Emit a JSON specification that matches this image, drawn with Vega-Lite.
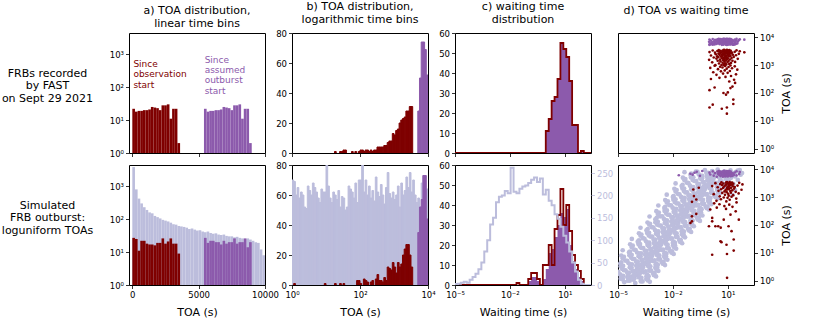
{
"$schema":"https://vega.github.io/schema/vega-lite/v6.json",
"padding":{"left":0,"top":0,"right":5,"bottom":5},
"config":{"font":"DejaVu Sans","view":{"stroke":"#000","strokeWidth":1},
"axis":{"grid":false,"domain":false,"tickColor":"#000","tickSize":3.5,"tickWidth":0.8,"labelFontSize":8.5,"labelColor":"#000","labelPadding":2,"labelFlush":false,"labelOverlap":false,"titleFontSize":11,"titleFontWeight":"normal","titleColor":"#000","titlePadding":7},
"title":{"fontSize":11,"fontWeight":"normal","offset":4,"lineHeight":13,"color":"#000"}},
"datasets":{
"a1":[{"lo":0,"hi":200,"c":22,"s":"obs"},{"lo":200,"hi":400,"c":18,"s":"obs"},{"lo":400,"hi":600,"c":19,"s":"obs"},{"lo":600,"hi":800,"c":19,"s":"obs"},{"lo":800,"hi":1000,"c":20,"s":"obs"},{"lo":1000,"hi":1200,"c":20,"s":"obs"},{"lo":1200,"hi":1400,"c":21,"s":"obs"},{"lo":1400,"hi":1600,"c":25,"s":"obs"},{"lo":1600,"hi":1800,"c":24,"s":"obs"},{"lo":1800,"hi":2000,"c":23,"s":"obs"},{"lo":2000,"hi":2200,"c":20,"s":"obs"},{"lo":2200,"hi":2400,"c":28,"s":"obs"},{"lo":2400,"hi":2600,"c":28,"s":"obs"},{"lo":2600,"hi":2800,"c":30,"s":"obs"},{"lo":2800,"hi":3000,"c":11,"s":"obs"},{"lo":3000,"hi":3200,"c":22,"s":"obs"},{"lo":3200,"hi":3400,"c":22,"s":"obs"},{"lo":3400,"hi":3600,"c":2,"s":"obs"},
{"lo":5400,"hi":5600,"c":22,"s":"out"},{"lo":5600,"hi":5800,"c":18,"s":"out"},{"lo":5800,"hi":6000,"c":19,"s":"out"},{"lo":6000,"hi":6200,"c":19,"s":"out"},{"lo":6200,"hi":6400,"c":20,"s":"out"},{"lo":6400,"hi":6600,"c":20,"s":"out"},{"lo":6600,"hi":6800,"c":21,"s":"out"},{"lo":6800,"hi":7000,"c":25,"s":"out"},{"lo":7000,"hi":7200,"c":24,"s":"out"},{"lo":7200,"hi":7400,"c":23,"s":"out"},{"lo":7400,"hi":7600,"c":20,"s":"out"},{"lo":7600,"hi":7800,"c":28,"s":"out"},{"lo":7800,"hi":8000,"c":28,"s":"out"},{"lo":8000,"hi":8200,"c":30,"s":"out"},{"lo":8200,"hi":8400,"c":11,"s":"out"},{"lo":8400,"hi":8600,"c":22,"s":"out"},{"lo":8600,"hi":8800,"c":22,"s":"out"},{"lo":8800,"hi":9000,"c":2,"s":"out"}],
"a1t":[{"lo":80,"c":670,"s":"obs","label":"Since\nobservation\nstart"},{"lo":5450,"c":900,"s":"out","label":"Since\nassumed\noutburst\nstart"}],
"a2":[{"lo":0,"hi":200,"c":3800,"s":"sim"},{"lo":200,"hi":400,"c":800,"s":"sim"},{"lo":400,"hi":600,"c":420,"s":"sim"},{"lo":600,"hi":800,"c":300,"s":"sim"},{"lo":800,"hi":1000,"c":230,"s":"sim"},{"lo":1000,"hi":1200,"c":190,"s":"sim"},{"lo":1200,"hi":1400,"c":160,"s":"sim"},{"lo":1400,"hi":1600,"c":150,"s":"sim"},{"lo":1600,"hi":1800,"c":125,"s":"sim"},{"lo":1800,"hi":2000,"c":115,"s":"sim"},{"lo":2000,"hi":2200,"c":105,"s":"sim"},{"lo":2200,"hi":2400,"c":95,"s":"sim"},{"lo":2400,"hi":2600,"c":90,"s":"sim"},{"lo":2600,"hi":2800,"c":85,"s":"sim"},{"lo":2800,"hi":3000,"c":78,"s":"sim"},{"lo":3000,"hi":3200,"c":70,"s":"sim"},{"lo":3200,"hi":3400,"c":68,"s":"sim"},{"lo":3400,"hi":3600,"c":62,"s":"sim"},{"lo":3600,"hi":3800,"c":60,"s":"sim"},{"lo":3800,"hi":4000,"c":58,"s":"sim"},{"lo":4000,"hi":4200,"c":55,"s":"sim"},{"lo":4200,"hi":4400,"c":50,"s":"sim"},{"lo":4400,"hi":4600,"c":52,"s":"sim"},{"lo":4600,"hi":4800,"c":48,"s":"sim"},{"lo":4800,"hi":5000,"c":45,"s":"sim"},{"lo":5000,"hi":5200,"c":46,"s":"sim"},{"lo":5200,"hi":5400,"c":42,"s":"sim"},{"lo":5400,"hi":5600,"c":40,"s":"sim"},{"lo":5600,"hi":5800,"c":42,"s":"sim"},{"lo":5800,"hi":6000,"c":38,"s":"sim"},{"lo":6000,"hi":6200,"c":36,"s":"sim"},{"lo":6200,"hi":6400,"c":37,"s":"sim"},{"lo":6400,"hi":6600,"c":34,"s":"sim"},{"lo":6600,"hi":6800,"c":33,"s":"sim"},{"lo":6800,"hi":7000,"c":34,"s":"sim"},{"lo":7000,"hi":7200,"c":31,"s":"sim"},{"lo":7200,"hi":7400,"c":30,"s":"sim"},{"lo":7400,"hi":7600,"c":30,"s":"sim"},{"lo":7600,"hi":7800,"c":28,"s":"sim"},{"lo":7800,"hi":8000,"c":29,"s":"sim"},{"lo":8000,"hi":8200,"c":27,"s":"sim"},{"lo":8200,"hi":8400,"c":26,"s":"sim"},{"lo":8400,"hi":8600,"c":25,"s":"sim"},{"lo":8600,"hi":8800,"c":26,"s":"sim"},{"lo":8800,"hi":9000,"c":24,"s":"sim"},{"lo":9000,"hi":9200,"c":22,"s":"sim"},{"lo":9200,"hi":9400,"c":20,"s":"sim"},{"lo":9400,"hi":9600,"c":19,"s":"sim"},{"lo":9600,"hi":9800,"c":12,"s":"sim"},{"lo":9800,"hi":10000,"c":8,"s":"sim"},
{"lo":0,"hi":200,"c":27,"s":"obs"},{"lo":200,"hi":400,"c":25,"s":"obs"},{"lo":400,"hi":600,"c":11,"s":"obs"},{"lo":600,"hi":800,"c":22,"s":"obs"},{"lo":800,"hi":1000,"c":22,"s":"obs"},{"lo":1000,"hi":1200,"c":18,"s":"obs"},{"lo":1200,"hi":1400,"c":17,"s":"obs"},{"lo":1400,"hi":1600,"c":17,"s":"obs"},{"lo":1600,"hi":1800,"c":16,"s":"obs"},{"lo":1800,"hi":2000,"c":19,"s":"obs"},{"lo":2000,"hi":2200,"c":19,"s":"obs"},{"lo":2200,"hi":2400,"c":26,"s":"obs"},{"lo":2400,"hi":2600,"c":18,"s":"obs"},{"lo":2600,"hi":2800,"c":21,"s":"obs"},{"lo":2800,"hi":3000,"c":26,"s":"obs"},{"lo":3000,"hi":3200,"c":18,"s":"obs"},{"lo":3200,"hi":3400,"c":18,"s":"obs"},{"lo":3400,"hi":3600,"c":9,"s":"obs"},
{"lo":5400,"hi":5600,"c":27,"s":"out"},{"lo":5600,"hi":5800,"c":19,"s":"out"},{"lo":5800,"hi":6000,"c":22,"s":"out"},{"lo":6000,"hi":6200,"c":22,"s":"out"},{"lo":6200,"hi":6400,"c":20,"s":"out"},{"lo":6400,"hi":6600,"c":20,"s":"out"},{"lo":6600,"hi":6800,"c":17,"s":"out"},{"lo":6800,"hi":7000,"c":22,"s":"out"},{"lo":7000,"hi":7200,"c":18,"s":"out"},{"lo":7200,"hi":7400,"c":20,"s":"out"},{"lo":7400,"hi":7600,"c":20,"s":"out"},{"lo":7600,"hi":7800,"c":26,"s":"out"},{"lo":7800,"hi":8000,"c":18,"s":"out"},{"lo":8000,"hi":8200,"c":20,"s":"out"},{"lo":8200,"hi":8400,"c":20,"s":"out"},{"lo":8400,"hi":8600,"c":26,"s":"out"},{"lo":8600,"hi":8800,"c":14,"s":"out"},{"lo":8800,"hi":9000,"c":20,"s":"out"}],
"b1":[{"lo":17.78,"hi":19.95,"c":1,"s":"obs"},{"lo":25.12,"hi":28.18,"c":1,"s":"obs"},{"lo":28.18,"hi":31.62,"c":1,"s":"obs"},{"lo":31.62,"hi":35.48,"c":2,"s":"obs"},{"lo":35.48,"hi":39.81,"c":2,"s":"obs"},{"lo":56.23,"hi":63.1,"c":1,"s":"obs"},{"lo":70.79,"hi":79.43,"c":1,"s":"obs"},{"lo":89.13,"hi":100,"c":1,"s":"obs"},{"lo":100,"hi":112.2,"c":2,"s":"obs"},{"lo":112.2,"hi":125.9,"c":2,"s":"obs"},{"lo":125.9,"hi":141.3,"c":1,"s":"obs"},{"lo":141.3,"hi":158.5,"c":2,"s":"obs"},{"lo":158.5,"hi":177.8,"c":2,"s":"obs"},{"lo":177.8,"hi":199.5,"c":1,"s":"obs"},{"lo":199.5,"hi":223.9,"c":2,"s":"obs"},{"lo":223.9,"hi":251.2,"c":1,"s":"obs"},{"lo":251.2,"hi":281.8,"c":2,"s":"obs"},{"lo":281.8,"hi":316.2,"c":2,"s":"obs"},{"lo":316.2,"hi":354.8,"c":4,"s":"obs"},{"lo":354.8,"hi":398.1,"c":4,"s":"obs"},{"lo":398.1,"hi":446.7,"c":4,"s":"obs"},{"lo":446.7,"hi":501.2,"c":4,"s":"obs"},{"lo":501.2,"hi":562.3,"c":5,"s":"obs"},{"lo":562.3,"hi":631,"c":5,"s":"obs"},{"lo":631,"hi":707.9,"c":7,"s":"obs"},{"lo":707.9,"hi":794.3,"c":8,"s":"obs"},{"lo":794.3,"hi":891.3,"c":8,"s":"obs"},{"lo":891.3,"hi":1000,"c":13,"s":"obs"},{"lo":1000,"hi":1122,"c":12,"s":"obs"},{"lo":1122,"hi":1259,"c":15,"s":"obs"},{"lo":1259,"hi":1413,"c":16,"s":"obs"},{"lo":1413,"hi":1585,"c":20,"s":"obs"},{"lo":1585,"hi":1778,"c":22,"s":"obs"},{"lo":1778,"hi":1995,"c":23,"s":"obs"},{"lo":1995,"hi":2239,"c":24,"s":"obs"},{"lo":2239,"hi":2512,"c":28,"s":"obs"},{"lo":2512,"hi":2818,"c":28,"s":"obs"},{"lo":2818,"hi":3162,"c":31,"s":"obs"},{"lo":3162,"hi":3548,"c":31,"s":"obs"},
{"lo":5012,"hi":5623,"c":28,"s":"out"},{"lo":5623,"hi":6310,"c":50,"s":"out"},{"lo":6310,"hi":7079,"c":74,"s":"out"},{"lo":7079,"hi":7943,"c":74,"s":"out"},{"lo":7943,"hi":8913,"c":69,"s":"out"},{"lo":8913,"hi":10000,"c":52,"s":"out"}],
"b2":[{"lo":1,"hi":1.122,"c":70,"s":"sim"},{"lo":1.122,"hi":1.259,"c":69,"s":"sim"},{"lo":1.259,"hi":1.413,"c":60,"s":"sim"},{"lo":1.413,"hi":1.585,"c":65,"s":"sim"},{"lo":1.585,"hi":1.778,"c":58,"s":"sim"},{"lo":1.778,"hi":1.995,"c":62,"s":"sim"},{"lo":1.995,"hi":2.239,"c":60,"s":"sim"},{"lo":2.239,"hi":2.512,"c":52,"s":"sim"},{"lo":2.512,"hi":2.818,"c":51,"s":"sim"},{"lo":2.818,"hi":3.162,"c":66,"s":"sim"},{"lo":3.162,"hi":3.548,"c":63,"s":"sim"},{"lo":3.548,"hi":3.981,"c":60,"s":"sim"},{"lo":3.981,"hi":4.467,"c":68,"s":"sim"},{"lo":4.467,"hi":5.012,"c":65,"s":"sim"},{"lo":5.012,"hi":5.623,"c":62,"s":"sim"},{"lo":5.623,"hi":6.31,"c":58,"s":"sim"},{"lo":6.31,"hi":7.079,"c":55,"s":"sim"},{"lo":7.079,"hi":7.943,"c":64,"s":"sim"},{"lo":7.943,"hi":8.913,"c":62,"s":"sim"},{"lo":8.913,"hi":10,"c":62,"s":"sim"},{"lo":10,"hi":11.22,"c":85,"s":"sim"},{"lo":11.22,"hi":12.59,"c":66,"s":"sim"},{"lo":12.59,"hi":14.13,"c":58,"s":"sim"},{"lo":14.13,"hi":15.85,"c":55,"s":"sim"},{"lo":15.85,"hi":17.78,"c":62,"s":"sim"},{"lo":17.78,"hi":19.95,"c":60,"s":"sim"},{"lo":19.95,"hi":22.39,"c":57,"s":"sim"},{"lo":22.39,"hi":25.12,"c":63,"s":"sim"},{"lo":25.12,"hi":28.18,"c":52,"s":"sim"},{"lo":28.18,"hi":31.62,"c":59,"s":"sim"},{"lo":31.62,"hi":35.48,"c":58,"s":"sim"},{"lo":35.48,"hi":39.81,"c":50,"s":"sim"},{"lo":39.81,"hi":44.67,"c":52,"s":"sim"},{"lo":44.67,"hi":50.12,"c":66,"s":"sim"},{"lo":50.12,"hi":56.23,"c":64,"s":"sim"},{"lo":56.23,"hi":63.1,"c":62,"s":"sim"},{"lo":63.1,"hi":70.79,"c":58,"s":"sim"},{"lo":70.79,"hi":79.43,"c":68,"s":"sim"},{"lo":79.43,"hi":89.13,"c":55,"s":"sim"},{"lo":89.13,"hi":100,"c":70,"s":"sim"},{"lo":100,"hi":112.2,"c":70,"s":"sim"},{"lo":112.2,"hi":125.9,"c":85,"s":"sim"},{"lo":125.9,"hi":141.3,"c":62,"s":"sim"},{"lo":141.3,"hi":158.5,"c":70,"s":"sim"},{"lo":158.5,"hi":177.8,"c":60,"s":"sim"},{"lo":177.8,"hi":199.5,"c":66,"s":"sim"},{"lo":199.5,"hi":223.9,"c":58,"s":"sim"},{"lo":223.9,"hi":251.2,"c":63,"s":"sim"},{"lo":251.2,"hi":281.8,"c":56,"s":"sim"},{"lo":281.8,"hi":316.2,"c":72,"s":"sim"},{"lo":316.2,"hi":354.8,"c":62,"s":"sim"},{"lo":354.8,"hi":398.1,"c":59,"s":"sim"},{"lo":398.1,"hi":446.7,"c":67,"s":"sim"},{"lo":446.7,"hi":501.2,"c":60,"s":"sim"},{"lo":501.2,"hi":562.3,"c":54,"s":"sim"},{"lo":562.3,"hi":631,"c":65,"s":"sim"},{"lo":631,"hi":707.9,"c":75,"s":"sim"},{"lo":707.9,"hi":794.3,"c":61,"s":"sim"},{"lo":794.3,"hi":891.3,"c":58,"s":"sim"},{"lo":891.3,"hi":1000,"c":62,"s":"sim"},{"lo":1000,"hi":1122,"c":57,"s":"sim"},{"lo":1122,"hi":1259,"c":60,"s":"sim"},{"lo":1259,"hi":1413,"c":66,"s":"sim"},{"lo":1413,"hi":1585,"c":52,"s":"sim"},{"lo":1585,"hi":1778,"c":68,"s":"sim"},{"lo":1778,"hi":1995,"c":60,"s":"sim"},{"lo":1995,"hi":2239,"c":63,"s":"sim"},{"lo":2239,"hi":2512,"c":72,"s":"sim"},{"lo":2512,"hi":2818,"c":65,"s":"sim"},{"lo":2818,"hi":3162,"c":75,"s":"sim"},{"lo":3162,"hi":3548,"c":62,"s":"sim"},{"lo":3548,"hi":3981,"c":70,"s":"sim"},{"lo":3981,"hi":4467,"c":60,"s":"sim"},{"lo":4467,"hi":5012,"c":55,"s":"sim"},{"lo":5012,"hi":5623,"c":58,"s":"sim"},{"lo":5623,"hi":6310,"c":52,"s":"sim"},{"lo":6310,"hi":7079,"c":68,"s":"sim"},{"lo":7079,"hi":7943,"c":73,"s":"sim"},{"lo":7943,"hi":8913,"c":60,"s":"sim"},{"lo":8913,"hi":10000,"c":64,"s":"sim"},
{"lo":1.122,"hi":1.259,"c":1,"s":"obs"},{"lo":8.913,"hi":10,"c":1,"s":"obs"},{"lo":17.78,"hi":19.95,"c":1,"s":"obs"},{"lo":25.12,"hi":28.18,"c":1,"s":"obs"},{"lo":31.62,"hi":35.48,"c":1,"s":"obs"},{"lo":79.43,"hi":89.13,"c":3,"s":"obs"},{"lo":89.13,"hi":100,"c":3,"s":"obs"},{"lo":100,"hi":112.2,"c":1,"s":"obs"},{"lo":125.9,"hi":141.3,"c":4,"s":"obs"},{"lo":141.3,"hi":158.5,"c":3,"s":"obs"},{"lo":158.5,"hi":177.8,"c":2,"s":"obs"},{"lo":199.5,"hi":223.9,"c":2,"s":"obs"},{"lo":223.9,"hi":251.2,"c":3,"s":"obs"},{"lo":281.8,"hi":316.2,"c":4,"s":"obs"},{"lo":316.2,"hi":354.8,"c":7,"s":"obs"},{"lo":354.8,"hi":398.1,"c":3,"s":"obs"},{"lo":398.1,"hi":446.7,"c":3,"s":"obs"},{"lo":446.7,"hi":501.2,"c":2,"s":"obs"},{"lo":501.2,"hi":562.3,"c":5,"s":"obs"},{"lo":562.3,"hi":631,"c":3,"s":"obs"},{"lo":631,"hi":707.9,"c":12,"s":"obs"},{"lo":707.9,"hi":794.3,"c":11,"s":"obs"},{"lo":794.3,"hi":891.3,"c":10,"s":"obs"},{"lo":891.3,"hi":1000,"c":15,"s":"obs"},{"lo":1000,"hi":1122,"c":12,"s":"obs"},{"lo":1122,"hi":1259,"c":8,"s":"obs"},{"lo":1259,"hi":1413,"c":15,"s":"obs"},{"lo":1413,"hi":1585,"c":12,"s":"obs"},{"lo":1585,"hi":1778,"c":14,"s":"obs"},{"lo":1778,"hi":1995,"c":20,"s":"obs"},{"lo":1995,"hi":2239,"c":24,"s":"obs"},{"lo":2239,"hi":2512,"c":27,"s":"obs"},{"lo":2512,"hi":2818,"c":27,"s":"obs"},{"lo":2818,"hi":3162,"c":20,"s":"obs"},{"lo":3162,"hi":3548,"c":12,"s":"obs"},
{"lo":5012,"hi":5623,"c":35,"s":"out"},{"lo":5623,"hi":6310,"c":52,"s":"out"},{"lo":6310,"hi":7079,"c":57,"s":"out"},{"lo":7079,"hi":7943,"c":73,"s":"out"},{"lo":7943,"hi":8913,"c":73,"s":"out"},{"lo":8913,"hi":10000,"c":44,"s":"out"}],
"c1":[{"e":1e-5,"c":0},{"e":0.912,"c":11},{"e":1.318,"c":17},{"e":1.905,"c":26},{"e":2.754,"c":28},{"e":3.981,"c":37},{"e":5.754,"c":55},{"e":8.318,"c":52},{"e":12.02,"c":48},{"e":17.38,"c":36},{"e":25.12,"c":14},{"e":36.31,"c":14},{"e":52.48,"c":0},{"e":75.86,"c":1},{"e":109.6,"c":0},{"e":300,"c":0}],
"c2r":[{"e":1e-5,"c":0},{"e":0.0229,"c":1},{"e":0.0331,"c":0},{"e":0.1,"c":3},{"e":0.1445,"c":6},{"e":0.302,"c":3},{"e":0.4365,"c":0},{"e":0.631,"c":10},{"e":1.318,"c":20},{"e":1.905,"c":10},{"e":2.754,"c":28},{"e":3.981,"c":35},{"e":5.754,"c":48},{"e":8.318,"c":30},{"e":12.02,"c":40},{"e":17.38,"c":27},{"e":25.12,"c":15},{"e":36.31,"c":10},{"e":52.48,"c":7},{"e":75.86,"c":3},{"e":109.6,"c":0},{"e":300,"c":0}],
"c2p":[{"e":1e-5,"c":0},{"e":0.1,"c":2},{"e":0.1445,"c":4},{"e":0.302,"c":2},{"e":0.4365,"c":0},{"e":0.631,"c":3},{"e":0.912,"c":8},{"e":1.318,"c":16},{"e":1.905,"c":18},{"e":2.754,"c":24},{"e":3.981,"c":30},{"e":5.754,"c":36},{"e":8.318,"c":34},{"e":12.02,"c":38},{"e":17.38,"c":20},{"e":25.12,"c":12},{"e":36.31,"c":8},{"e":52.48,"c":4},{"e":75.86,"c":2},{"e":109.6,"c":0},{"e":300,"c":0}],
"c2l":[{"e":1e-5,"c":2},{"e":1.445e-5,"c":3},{"e":2.089e-5,"c":5},{"e":3.02e-5,"c":7},{"e":4.365e-5,"c":5},{"e":6.31e-5,"c":12},{"e":9.12e-5,"c":18},{"e":1.318e-4,"c":25},{"e":1.905e-4,"c":35},{"e":2.754e-4,"c":50},{"e":3.981e-4,"c":75},{"e":5.754e-4,"c":100},{"e":8.318e-4,"c":135},{"e":1.202e-3,"c":150},{"e":1.738e-3,"c":185},{"e":2.512e-3,"c":197},{"e":3.631e-3,"c":200},{"e":5.248e-3,"c":210},{"e":7.586e-3,"c":205},{"e":1.096e-2,"c":262},{"e":1.585e-2,"c":208},{"e":2.291e-2,"c":205},{"e":3.311e-2,"c":215},{"e":4.786e-2,"c":220},{"e":6.918e-2,"c":222},{"e":0.1,"c":228},{"e":0.1445,"c":235},{"e":0.2089,"c":240},{"e":0.302,"c":230},{"e":0.4365,"c":238},{"e":0.631,"c":202},{"e":0.912,"c":213},{"e":1.318,"c":188},{"e":1.905,"c":178},{"e":2.754,"c":158},{"e":3.981,"c":148},{"e":5.754,"c":130},{"e":8.318,"c":110},{"e":12.02,"c":95},{"e":17.38,"c":75},{"e":25.12,"c":50},{"e":36.31,"c":30},{"e":52.48,"c":12},{"e":75.86,"c":3},{"e":109.6,"c":0},{"e":300,"c":0}],
"d1":[{"w":1.0,"t":30,"s":"obs"},{"w":1.5,"t":38,"s":"obs"},{"w":4.7,"t":27,"s":"obs"},{"w":8.9,"t":30,"s":"obs"},{"w":8.9,"t":18,"s":"obs"},{"w":20,"t":58,"s":"obs"},{"w":20,"t":40,"s":"obs"},{"w":1.0,"t":126,"s":"obs"},{"w":1.9,"t":158,"s":"obs"},{"w":5.8,"t":100,"s":"obs"},{"w":8,"t":87,"s":"obs"},{"w":10,"t":105,"s":"obs"},{"w":14,"t":150,"s":"obs"},{"w":18,"t":170,"s":"obs"},{"w":25,"t":230,"s":"obs"},{"w":12,"t":260,"s":"obs"},{"w":22,"t":300,"s":"obs"},
{"w":1.2,"t":320,"s":"obs"},{"w":3.5,"t":350,"s":"obs"},{"w":7.5,"t":380,"s":"obs"},{"w":15,"t":410,"s":"obs"},{"w":2.4,"t":450,"s":"obs"},{"w":28,"t":470,"s":"obs"},{"w":5.5,"t":500,"s":"obs"},{"w":9.8,"t":530,"s":"obs"},{"w":1.6,"t":560,"s":"obs"},{"w":4.2,"t":600,"s":"obs"},{"w":13,"t":620,"s":"obs"},{"w":6.8,"t":650,"s":"obs"},{"w":33,"t":690,"s":"obs"},{"w":2.9,"t":720,"s":"obs"},{"w":8.7,"t":750,"s":"obs"},{"w":17,"t":780,"s":"obs"},{"w":1.1,"t":800,"s":"obs"},{"w":5.1,"t":830,"s":"obs"},{"w":11,"t":860,"s":"obs"},{"w":3.8,"t":880,"s":"obs"},{"w":24,"t":910,"s":"obs"},{"w":7.2,"t":940,"s":"obs"},{"w":1.9,"t":960,"s":"obs"},{"w":14,"t":980,"s":"obs"},{"w":6.1,"t":995,"s":"obs"},
{"w":2.1,"t":1005,"s":"obs"},{"w":4.5,"t":1021,"s":"obs"},{"w":8.3,"t":1070,"s":"obs"},{"w":6.0,"t":1084,"s":"obs"},{"w":12,"t":1116,"s":"obs"},{"w":3.3,"t":1154,"s":"obs"},{"w":7.1,"t":1163,"s":"obs"},{"w":15,"t":1207,"s":"obs"},{"w":5.2,"t":1226,"s":"obs"},{"w":1.4,"t":1268,"s":"obs"},{"w":9.5,"t":1295,"s":"obs"},{"w":25,"t":1311,"s":"obs"},{"w":4.0,"t":1360,"s":"obs"},{"w":6.6,"t":1374,"s":"obs"},{"w":11,"t":1406,"s":"obs"},{"w":2.8,"t":1444,"s":"obs"},{"w":18,"t":1453,"s":"obs"},{"w":7.7,"t":1497,"s":"obs"},{"w":5.6,"t":1516,"s":"obs"},{"w":0.95,"t":1558,"s":"obs"},{"w":3.8,"t":1585,"s":"obs"},{"w":13,"t":1601,"s":"obs"},{"w":8.9,"t":1650,"s":"obs"},{"w":6.3,"t":1664,"s":"obs"},{"w":35,"t":1696,"s":"obs"},{"w":2.4,"t":1734,"s":"obs"},{"w":10,"t":1743,"s":"obs"},{"w":4.9,"t":1787,"s":"obs"},{"w":16,"t":1806,"s":"obs"},{"w":7.3,"t":1848,"s":"obs"},
{"w":5.9,"t":1875,"s":"obs"},{"w":1.7,"t":1891,"s":"obs"},{"w":9.1,"t":1940,"s":"obs"},{"w":3.0,"t":1954,"s":"obs"},{"w":21,"t":1986,"s":"obs"},{"w":6.9,"t":2024,"s":"obs"},{"w":4.3,"t":2033,"s":"obs"},{"w":11.5,"t":2077,"s":"obs"},{"w":2.6,"t":2096,"s":"obs"},{"w":8.0,"t":2138,"s":"obs"},{"w":14,"t":2165,"s":"obs"},{"w":5.0,"t":2181,"s":"obs"},{"w":1.2,"t":2230,"s":"obs"},{"w":7.5,"t":2244,"s":"obs"},{"w":28,"t":2276,"s":"obs"},{"w":3.6,"t":2314,"s":"obs"},{"w":10.5,"t":2323,"s":"obs"},{"w":6.2,"t":2367,"s":"obs"},{"w":19,"t":2386,"s":"obs"},{"w":4.7,"t":2428,"s":"obs"},{"w":9.8,"t":2455,"s":"obs"},{"w":2.2,"t":2471,"s":"obs"},{"w":12.5,"t":2520,"s":"obs"},{"w":5.4,"t":2534,"s":"obs"},{"w":40,"t":2566,"s":"obs"},{"w":7.0,"t":2604,"s":"obs"},{"w":3.1,"t":2613,"s":"obs"},{"w":8.6,"t":2657,"s":"obs"},{"w":15.5,"t":2676,"s":"obs"},{"w":6.5,"t":2718,"s":"obs"},
{"w":3.9,"t":2745,"s":"obs"},{"w":10.8,"t":2761,"s":"obs"},{"w":6.7,"t":2810,"s":"obs"},{"w":2.0,"t":2824,"s":"obs"},{"w":17,"t":2856,"s":"obs"},{"w":8.2,"t":2894,"s":"obs"},{"w":4.4,"t":2903,"s":"obs"},{"w":13.5,"t":2947,"s":"obs"},{"w":1.0,"t":2966,"s":"obs"},{"w":7.9,"t":3008,"s":"obs"},{"w":24,"t":3035,"s":"obs"},{"w":5.3,"t":3051,"s":"obs"},{"w":9.3,"t":3100,"s":"obs"},{"w":3.4,"t":3114,"s":"obs"},{"w":11.8,"t":3146,"s":"obs"},{"w":6.0,"t":3184,"s":"obs"},{"w":45,"t":3193,"s":"obs"},{"w":2.7,"t":3237,"s":"obs"},{"w":8.5,"t":3256,"s":"obs"},{"w":14.5,"t":3298,"s":"obs"},{"w":4.1,"t":3325,"s":"obs"},{"w":7.4,"t":3341,"s":"obs"},{"w":1.5,"t":3390,"s":"obs"},{"w":10.2,"t":3404,"s":"obs"},{"w":30,"t":3436,"s":"obs"},{"w":5.7,"t":3474,"s":"obs"},{"w":12.2,"t":3483,"s":"obs"},{"w":3.2,"t":3527,"s":"obs"},{"w":9.0,"t":3546,"s":"obs"},{"w":6.4,"t":3588,"s":"obs"},{"w":80,"t":2900,"s":"obs"},
{"w":1.0,"t":5430,"s":"out"},{"w":1.5,"t":5438,"s":"out"},{"w":4.7,"t":5427,"s":"out"},{"w":8.9,"t":5430,"s":"out"},{"w":8.9,"t":5418,"s":"out"},{"w":20,"t":5458,"s":"out"},{"w":20,"t":5440,"s":"out"},{"w":1.0,"t":5526,"s":"out"},{"w":1.9,"t":5558,"s":"out"},{"w":5.8,"t":5500,"s":"out"},{"w":8,"t":5487,"s":"out"},{"w":10,"t":5505,"s":"out"},{"w":14,"t":5550,"s":"out"},{"w":18,"t":5570,"s":"out"},{"w":25,"t":5630,"s":"out"},{"w":12,"t":5660,"s":"out"},{"w":22,"t":5700,"s":"out"},
{"w":1.2,"t":5720,"s":"out"},{"w":3.5,"t":5750,"s":"out"},{"w":7.5,"t":5780,"s":"out"},{"w":15,"t":5810,"s":"out"},{"w":2.4,"t":5850,"s":"out"},{"w":28,"t":5870,"s":"out"},{"w":5.5,"t":5900,"s":"out"},{"w":9.8,"t":5930,"s":"out"},{"w":1.6,"t":5960,"s":"out"},{"w":4.2,"t":6000,"s":"out"},{"w":13,"t":6020,"s":"out"},{"w":6.8,"t":6050,"s":"out"},{"w":33,"t":6090,"s":"out"},{"w":2.9,"t":6120,"s":"out"},{"w":8.7,"t":6150,"s":"out"},{"w":17,"t":6180,"s":"out"},{"w":1.1,"t":6200,"s":"out"},{"w":5.1,"t":6230,"s":"out"},{"w":11,"t":6260,"s":"out"},{"w":3.8,"t":6280,"s":"out"},{"w":24,"t":6310,"s":"out"},{"w":7.2,"t":6340,"s":"out"},{"w":1.9,"t":6360,"s":"out"},{"w":14,"t":6380,"s":"out"},{"w":6.1,"t":6395,"s":"out"},
{"w":2.1,"t":6405,"s":"out"},{"w":4.5,"t":6421,"s":"out"},{"w":8.3,"t":6470,"s":"out"},{"w":6.0,"t":6484,"s":"out"},{"w":12,"t":6516,"s":"out"},{"w":3.3,"t":6554,"s":"out"},{"w":7.1,"t":6563,"s":"out"},{"w":15,"t":6607,"s":"out"},{"w":5.2,"t":6626,"s":"out"},{"w":1.4,"t":6668,"s":"out"},{"w":9.5,"t":6695,"s":"out"},{"w":25,"t":6711,"s":"out"},{"w":4.0,"t":6760,"s":"out"},{"w":6.6,"t":6774,"s":"out"},{"w":11,"t":6806,"s":"out"},{"w":2.8,"t":6844,"s":"out"},{"w":18,"t":6853,"s":"out"},{"w":7.7,"t":6897,"s":"out"},{"w":5.6,"t":6916,"s":"out"},{"w":0.95,"t":6958,"s":"out"},{"w":3.8,"t":6985,"s":"out"},{"w":13,"t":7001,"s":"out"},{"w":8.9,"t":7050,"s":"out"},{"w":6.3,"t":7064,"s":"out"},{"w":35,"t":7096,"s":"out"},{"w":2.4,"t":7134,"s":"out"},{"w":10,"t":7143,"s":"out"},{"w":4.9,"t":7187,"s":"out"},{"w":16,"t":7206,"s":"out"},{"w":7.3,"t":7248,"s":"out"},
{"w":5.9,"t":7275,"s":"out"},{"w":1.7,"t":7291,"s":"out"},{"w":9.1,"t":7340,"s":"out"},{"w":3.0,"t":7354,"s":"out"},{"w":21,"t":7386,"s":"out"},{"w":6.9,"t":7424,"s":"out"},{"w":4.3,"t":7433,"s":"out"},{"w":11.5,"t":7477,"s":"out"},{"w":2.6,"t":7496,"s":"out"},{"w":8.0,"t":7538,"s":"out"},{"w":14,"t":7565,"s":"out"},{"w":5.0,"t":7581,"s":"out"},{"w":1.2,"t":7630,"s":"out"},{"w":7.5,"t":7644,"s":"out"},{"w":28,"t":7676,"s":"out"},{"w":3.6,"t":7714,"s":"out"},{"w":10.5,"t":7723,"s":"out"},{"w":6.2,"t":7767,"s":"out"},{"w":19,"t":7786,"s":"out"},{"w":4.7,"t":7828,"s":"out"},{"w":9.8,"t":7855,"s":"out"},{"w":2.2,"t":7871,"s":"out"},{"w":12.5,"t":7920,"s":"out"},{"w":5.4,"t":7934,"s":"out"},{"w":40,"t":7966,"s":"out"},{"w":7.0,"t":8004,"s":"out"},{"w":3.1,"t":8013,"s":"out"},{"w":8.6,"t":8057,"s":"out"},{"w":15.5,"t":8076,"s":"out"},{"w":6.5,"t":8118,"s":"out"},
{"w":3.9,"t":8145,"s":"out"},{"w":10.8,"t":8161,"s":"out"},{"w":6.7,"t":8210,"s":"out"},{"w":2.0,"t":8224,"s":"out"},{"w":17,"t":8256,"s":"out"},{"w":8.2,"t":8294,"s":"out"},{"w":4.4,"t":8303,"s":"out"},{"w":13.5,"t":8347,"s":"out"},{"w":1.0,"t":8366,"s":"out"},{"w":7.9,"t":8408,"s":"out"},{"w":24,"t":8435,"s":"out"},{"w":5.3,"t":8451,"s":"out"},{"w":9.3,"t":8500,"s":"out"},{"w":3.4,"t":8514,"s":"out"},{"w":11.8,"t":8546,"s":"out"},{"w":6.0,"t":8584,"s":"out"},{"w":45,"t":8593,"s":"out"},{"w":2.7,"t":8637,"s":"out"},{"w":8.5,"t":8656,"s":"out"},{"w":14.5,"t":8698,"s":"out"},{"w":4.1,"t":8725,"s":"out"},{"w":7.4,"t":8741,"s":"out"},{"w":1.5,"t":8790,"s":"out"},{"w":10.2,"t":8804,"s":"out"},{"w":30,"t":8836,"s":"out"},{"w":5.7,"t":8874,"s":"out"},{"w":12.2,"t":8883,"s":"out"},{"w":3.2,"t":8927,"s":"out"},{"w":9.0,"t":8946,"s":"out"},{"w":6.4,"t":8988,"s":"out"},{"w":80,"t":8300,"s":"out"}],
"d2l":[{"w":2.2e-5,"t":0.87},{"w":4.4e-5,"t":0.99},{"w":8.8e-5,"t":0.81},{"w":2.2e-4,"t":0.93},{"w":5.5e-4,"t":0.9},
{"w":1.8e-5,"t":1.17},{"w":4.0e-5,"t":1.07},{"w":7.9e-5,"t":1.21},{"w":1.8e-4,"t":0.99},{"w":4.4e-4,"t":1.13},
{"w":1.9e-5,"t":1.48},{"w":4.7e-5,"t":1.36},{"w":9.5e-5,"t":1.54},{"w":1.9e-4,"t":1.26},{"w":4.7e-4,"t":1.44},{"w":1.2e-3,"t":1.4},
{"w":1.3e-5,"t":1.67},{"w":4.0e-5,"t":1.91},{"w":9.0e-5,"t":1.75},{"w":1.8e-4,"t":1.98},{"w":4.0e-4,"t":1.62},{"w":1.0e-3,"t":1.85},
{"w":2.6e-5,"t":2.33},{"w":6.5e-5,"t":2.13},{"w":1.3e-4,"t":2.42},{"w":2.6e-4,"t":1.98},{"w":6.5e-4,"t":2.27},{"w":1.6e-3,"t":2.2},
{"w":1.7e-5,"t":2.6},{"w":5.5e-5,"t":2.97},{"w":1.2e-4,"t":2.72},{"w":2.4e-4,"t":3.08},{"w":5.4e-4,"t":2.52},{"w":1.4e-3,"t":2.88},
{"w":1.9e-5,"t":3.35},{"w":5.8e-5,"t":3.82},{"w":1.5e-4,"t":3.49},{"w":2.9e-4,"t":3.96},{"w":5.8e-4,"t":3.24},{"w":1.5e-3,"t":3.71},{"w":3.7e-3,"t":3.6},
{"w":3.8e-5,"t":4.19},{"w":1.2e-4,"t":4.77},{"w":2.7e-4,"t":4.37},{"w":5.4e-4,"t":4.95},{"w":1.2e-3,"t":4.05},{"w":3.1e-3,"t":4.64},{"w":1.5e-5,"t":4.5},
{"w":2.5e-5,"t":5.21},{"w":7.9e-5,"t":5.94},{"w":2.0e-4,"t":5.43},{"w":4.0e-4,"t":6.16},{"w":7.9e-4,"t":5.04},{"w":2.0e-3,"t":5.77},{"w":5.0e-3,"t":5.6},
{"w":5.3e-5,"t":6.6},{"w":1.7e-4,"t":7.53},{"w":3.7e-4,"t":6.89},{"w":7.4e-4,"t":7.81},{"w":1.7e-3,"t":6.39},{"w":4.2e-3,"t":7.31},{"w":2.1e-5,"t":7.1},
{"w":5.6e-5,"t":8.37},{"w":1.8e-4,"t":9.54},{"w":4.4e-4,"t":8.73},{"w":8.8e-4,"t":9.9},{"w":1.8e-3,"t":8.1},{"w":4.4e-3,"t":9.27},{"w":1.1e-2,"t":9},
{"w":1.1e-4,"t":10.2},{"w":3.6e-4,"t":11.7},{"w":7.9e-4,"t":10.7},{"w":1.6e-3,"t":12.1},{"w":3.6e-3,"t":9.9},{"w":8.9e-3,"t":11.3},{"w":4.5e-5,"t":11},
{"w":7.5e-5,"t":13},{"w":2.4e-4,"t":14.8},{"w":6.0e-4,"t":13.6},{"w":1.2e-3,"t":15.4},{"w":2.4e-3,"t":12.6},{"w":6.0e-3,"t":14.4},{"w":1.5e-2,"t":14},
{"w":1.6e-4,"t":16.7},{"w":5.2e-4,"t":19.1},{"w":1.1e-3,"t":17.5},{"w":2.3e-3,"t":19.8},{"w":5.1e-3,"t":16.2},{"w":1.3e-2,"t":18.5},{"w":6.4e-5,"t":18},
{"w":1.6e-4,"t":20.5},{"w":5.1e-4,"t":23.3},{"w":1.3e-3,"t":21.3},{"w":2.6e-3,"t":24.2},{"w":5.1e-3,"t":19.8},{"w":1.3e-2,"t":22.7},{"w":3.2e-2,"t":22},
{"w":3.4e-4,"t":26},{"w":1.1e-3,"t":29.7},{"w":2.4e-3,"t":27.2},{"w":4.9e-3,"t":30.8},{"w":1.1e-2,"t":25.2},{"w":2.7e-2,"t":28.8},{"w":1.4e-4,"t":28},
{"w":2.3e-4,"t":33.5},{"w":7.4e-4,"t":38.2},{"w":1.8e-3,"t":34.9},{"w":3.7e-3,"t":39.6},{"w":7.4e-3,"t":32.4},{"w":1.8e-2,"t":37.1},{"w":4.6e-2,"t":36},
{"w":4.8e-4,"t":41.9},{"w":1.5e-3,"t":47.7},{"w":3.4e-3,"t":43.7},{"w":6.8e-3,"t":49.5},{"w":1.5e-2,"t":40.5},{"w":3.8e-2,"t":46.4},{"w":1.9e-4,"t":45},
{"w":5.0e-4,"t":52.1},{"w":1.6e-3,"t":59.4},{"w":4.0e-3,"t":54.3},{"w":7.9e-3,"t":61.6},{"w":1.6e-2,"t":50.4},{"w":4.0e-2,"t":57.7},{"w":9.9e-2,"t":56},
{"w":1.05e-3,"t":66},{"w":3.3e-3,"t":75.3},{"w":7.4e-3,"t":68.9},{"w":1.5e-2,"t":78.1},{"w":3.3e-2,"t":63.9},{"w":8.3e-2,"t":73.1},{"w":4.2e-4,"t":71},
{"w":7.0e-4,"t":83.7},{"w":2.2e-3,"t":95.4},{"w":5.6e-3,"t":87.3},{"w":1.1e-2,"t":99},{"w":2.2e-2,"t":81},{"w":5.6e-2,"t":92.7},{"w":0.14,"t":90},
{"w":1.4e-3,"t":102},{"w":4.5e-3,"t":117},{"w":1.0e-2,"t":107},{"w":2.0e-2,"t":121},{"w":4.5e-2,"t":99},{"w":0.11,"t":113},{"w":5.6e-4,"t":110},
{"w":1.5e-3,"t":130},{"w":4.7e-3,"t":148},{"w":1.2e-2,"t":136},{"w":2.4e-2,"t":154},{"w":4.7e-2,"t":126},{"w":0.12,"t":144},{"w":0.3,"t":140},
{"w":3.2e-3,"t":167},{"w":1.0e-2,"t":191},{"w":2.3e-2,"t":175},{"w":4.5e-2,"t":198},{"w":0.1,"t":162},{"w":0.26,"t":185},{"w":1.3e-3,"t":180},
{"w":2.0e-3,"t":205},{"w":6.5e-3,"t":233},{"w":1.6e-2,"t":213},{"w":3.2e-2,"t":242},{"w":6.5e-2,"t":198},{"w":0.16,"t":227},{"w":0.41,"t":220},
{"w":4.3e-3,"t":260},{"w":1.4e-2,"t":297},{"w":3.1e-2,"t":272},{"w":6.1e-2,"t":308},{"w":0.14,"t":252},{"w":0.34,"t":288},{"w":1.7e-3,"t":280},
{"w":4.7e-3,"t":335},{"w":1.5e-2,"t":382},{"w":3.7e-2,"t":349},{"w":7.4e-2,"t":396},{"w":0.15,"t":324},{"w":0.37,"t":371},{"w":0.92,"t":360},
{"w":9.6e-3,"t":419},{"w":3.1e-2,"t":477},{"w":6.8e-2,"t":437},{"w":0.14,"t":495},{"w":0.31,"t":405},{"w":0.77,"t":464},{"w":3.8e-3,"t":450},
{"w":6.3e-3,"t":521},{"w":2.0e-2,"t":594},{"w":5.0e-2,"t":543},{"w":0.1,"t":616},{"w":0.2,"t":504},{"w":0.5,"t":577},{"w":1.25,"t":560},
{"w":1.3e-2,"t":660},{"w":4.2e-2,"t":753},{"w":9.4e-2,"t":689},{"w":0.19,"t":781},{"w":0.42,"t":639},{"w":1.04,"t":731},{"w":5.3e-3,"t":710},
{"w":1.4e-2,"t":837},{"w":4.4e-2,"t":954},{"w":0.11,"t":873},{"w":0.22,"t":990},{"w":0.44,"t":810},{"w":1.1,"t":927},{"w":2.8,"t":900},
{"w":2.8e-2,"t":1023},{"w":9.0e-2,"t":1166},{"w":0.2,"t":1067},{"w":0.4,"t":1210},{"w":0.9,"t":990},{"w":2.2,"t":1133},{"w":1.1e-2,"t":1100},
{"w":1.9e-2,"t":1302},{"w":6.0e-2,"t":1484},{"w":0.15,"t":1358},{"w":0.3,"t":1540},{"w":0.6,"t":1260},{"w":1.5,"t":1442},{"w":3.8,"t":1400},
{"w":4.0e-2,"t":1674},{"w":0.13,"t":1908},{"w":0.29,"t":1746},{"w":0.57,"t":1980},{"w":1.28,"t":1620},{"w":3.2,"t":1854},{"w":1.6e-2,"t":1800},
{"w":4.1e-2,"t":2046},{"w":0.13,"t":2332},{"w":0.32,"t":2134},{"w":0.65,"t":2420},{"w":1.28,"t":1980},{"w":3.2,"t":2266},{"w":8.1,"t":2200},
{"w":8.6e-2,"t":2604},{"w":0.27,"t":2968},{"w":0.61,"t":2716},{"w":1.22,"t":3080},{"w":2.7,"t":2520},{"w":6.9,"t":2884},{"w":3.4e-2,"t":2800},
{"w":5.8e-2,"t":3348},{"w":0.19,"t":3816},{"w":0.46,"t":3492},{"w":0.93,"t":3960},{"w":1.85,"t":3240},{"w":4.6,"t":3708},{"w":11.7,"t":3600},
{"w":0.12,"t":4185},{"w":0.39,"t":4770},{"w":0.86,"t":4365},{"w":1.7,"t":4950},{"w":3.8,"t":4050},{"w":9.6,"t":4635},{"w":4.8e-2,"t":4500},
{"w":0.13,"t":5208},{"w":0.4,"t":5936},{"w":1.0,"t":5432},{"w":2.0,"t":6160},{"w":4.0,"t":5040},{"w":10,"t":5768},{"w":25,"t":5600},
{"w":0.26,"t":6603},{"w":0.84,"t":7526},{"w":1.86,"t":6887},{"w":3.7,"t":7810},{"w":8.4,"t":6390},{"w":21,"t":7313},{"w":0.1,"t":7100},
{"w":0.18,"t":8370},{"w":0.56,"t":9540},{"w":1.4,"t":8730},{"w":2.8,"t":9900},{"w":5.6,"t":8100},{"w":14,"t":9270},{"w":35,"t":9000},
{"w":20,"t":3000},{"w":35,"t":4200},{"w":50,"t":6500},{"w":28,"t":8200},{"w":15,"t":5000},{"w":45,"t":9500},{"w":60,"t":7400},{"w":12,"t":2500},{"w":25,"t":1800},{"w":18,"t":1200},
{"w":1.77e-5,"t":1.09},{"w":3.5e-5,"t":0.99},{"w":7.1e-5,"t":1.06},{"w":1.77e-4,"t":0.93},{"w":4.3e-4,"t":1.01},
{"w":1.4e-5,"t":1.17},{"w":3.2e-5,"t":1.33},{"w":6.4e-5,"t":1.21},{"w":1.4e-4,"t":1.29},{"w":3.5e-4,"t":1.13},
{"w":1.46e-5,"t":1.49},{"w":3.6e-5,"t":1.7},{"w":6.9e-5,"t":1.54},{"w":1.46e-4,"t":1.65},{"w":3.6e-4,"t":1.44},{"w":9.0e-4,"t":1.57},
{"w":1.04e-5,"t":2.06},{"w":3.2e-5,"t":1.92},{"w":7.0e-5,"t":2.18},{"w":1.4e-4,"t":1.98},{"w":3.2e-4,"t":2.12},{"w":8.1e-4,"t":1.86},
{"w":2.1e-5,"t":2.34},{"w":5.2e-5,"t":2.66},{"w":1.04e-4,"t":2.41},{"w":2.1e-4,"t":2.58},{"w":5.2e-4,"t":2.26},{"w":1.26e-3,"t":2.46},
{"w":1.4e-5,"t":3.2},{"w":4.4e-5,"t":2.98},{"w":9.9e-5,"t":3.39},{"w":1.98e-4,"t":3.08},{"w":4.4e-4,"t":3.3},{"w":1.09e-3,"t":2.89},
{"w":1.34e-5,"t":4.11},{"w":4.6e-5,"t":3.83},{"w":1.13e-4,"t":4.35},{"w":2.1e-4,"t":3.95},{"w":4.6e-4,"t":4.23},{"w":1.13e-3,"t":3.71},{"w":2.8e-3,"t":4.03},
{"w":3.2e-5,"t":5.14},{"w":9.8e-5,"t":4.79},{"w":2.1e-4,"t":5.44},{"w":4.2e-4,"t":4.94},{"w":9.8e-4,"t":5.29},{"w":2.45e-3,"t":4.64},
{"w":1.8e-5,"t":6.4},{"w":6.4e-5,"t":5.96},{"w":1.6e-4,"t":6.77},{"w":3.2e-4,"t":6.14},{"w":6.4e-4,"t":6.58},{"w":1.6e-3,"t":5.77},{"w":3.9e-3,"t":6.27},
{"w":4.2e-5,"t":8.11},{"w":1.33e-4,"t":7.55},{"w":3.0e-4,"t":8.59},{"w":6.05e-4,"t":7.79},{"w":1.33e-3,"t":8.35},{"w":3.3e-3,"t":7.31},{"w":1.5e-5,"t":7.95},
{"w":4.0e-5,"t":10.3},{"w":1.37e-4,"t":9.6},{"w":3.4e-4,"t":10.9},{"w":6.4e-4,"t":9.9},{"w":1.37e-3,"t":10.6},{"w":3.4e-3,"t":9.3},{"w":8.5e-3,"t":10.1},
{"w":9.2e-5,"t":12.5},{"w":2.9e-4,"t":11.7},{"w":6.1e-4,"t":13.3},{"w":1.22e-3,"t":12.1},{"w":2.9e-3,"t":12.9},{"w":7.1e-3,"t":11.3},{"w":1.8e-5,"t":12.3},
{"w":5.5e-5,"t":16},{"w":1.9e-4,"t":14.9},{"w":4.8e-4,"t":17},{"w":9.6e-4,"t":15.4},{"w":1.9e-3,"t":16.5},{"w":4.8e-3,"t":14.4},{"w":1.16e-2,"t":15.7},
{"w":1.3e-4,"t":20.6},{"w":4.1e-4,"t":19.2},{"w":9.3e-4,"t":21.8},{"w":1.85e-3,"t":19.8},{"w":4.1e-3,"t":21.2},{"w":1.02e-2,"t":18.6},{"w":4.6e-5,"t":20.2},
{"w":1.2e-4,"t":25.1},{"w":4.0e-4,"t":23.4},{"w":9.9e-4,"t":26.6},{"w":1.9e-3,"t":24.1},{"w":4.0e-3,"t":25.8},{"w":9.9e-3,"t":22.6},{"w":2.5e-2,"t":24.6},
{"w":2.8e-4,"t":32},{"w":8.8e-4,"t":29.8},{"w":1.9e-3,"t":33.9},{"w":3.8e-3,"t":30.8},{"w":8.8e-3,"t":33},{"w":2.2e-2,"t":28.9},{"w":5.7e-5,"t":31.4},
{"w":1.7e-4,"t":41.1},{"w":5.9e-4,"t":38.3},{"w":1.5e-3,"t":43.5},{"w":3.0e-3,"t":39.5},{"w":5.9e-3,"t":42.3},{"w":1.5e-2,"t":37.1},{"w":3.6e-2,"t":40.3},
{"w":3.9e-4,"t":51.4},{"w":1.2e-3,"t":47.9},{"w":2.8e-3,"t":54.4},{"w":5.55e-3,"t":49.4},{"w":1.2e-2,"t":52.9},{"w":3.1e-2,"t":46.4},{"w":1.4e-4,"t":50.4},
{"w":3.6e-4,"t":64},{"w":1.2e-3,"t":59.6},{"w":3.0e-3,"t":67.7},{"w":5.8e-3,"t":61.4},{"w":1.2e-2,"t":65.8},{"w":3.0e-2,"t":57.7},{"w":7.6e-2,"t":62.7},
{"w":8.6e-4,"t":81.1},{"w":2.7e-3,"t":75.5},{"w":5.8e-3,"t":85.9},{"w":1.15e-2,"t":77.9},{"w":2.7e-2,"t":83.5},{"w":6.7e-2,"t":73.1},{"w":1.7e-4,"t":79.5},
{"w":5.1e-4,"t":103},{"w":1.8e-3,"t":96},{"w":4.5e-3,"t":109},{"w":9.0e-3,"t":99},{"w":1.8e-2,"t":106},{"w":4.5e-2,"t":93},{"w":0.109,"t":101},
{"w":1.1e-3,"t":125},{"w":3.6e-3,"t":117},{"w":8.1e-3,"t":133},{"w":1.62e-2,"t":121},{"w":3.6e-2,"t":129},{"w":8.9e-2,"t":113},{"w":4.1e-4,"t":123},
{"w":1.1e-3,"t":160},{"w":3.7e-3,"t":149},{"w":9.1e-3,"t":170},{"w":1.7e-2,"t":154},{"w":3.7e-2,"t":165},{"w":9.1e-2,"t":144},{"w":0.227,"t":157},
{"w":2.6e-3,"t":206},{"w":8.2e-3,"t":192},{"w":1.76e-2,"t":218},{"w":3.5e-2,"t":198},{"w":8.2e-2,"t":212},{"w":0.205,"t":186},{"w":5.3e-4,"t":202},
{"w":1.5e-3,"t":251},{"w":5.2e-3,"t":234},{"w":1.3e-2,"t":266},{"w":2.6e-2,"t":241},{"w":5.2e-2,"t":258},{"w":0.13,"t":226},{"w":0.32,"t":246},
{"w":3.5e-3,"t":320},{"w":1.1e-2,"t":298},{"w":2.5e-2,"t":339},{"w":5.0e-2,"t":308},{"w":0.11,"t":330},{"w":0.27,"t":289},{"w":1.25e-3,"t":314},
{"w":3.4e-3,"t":411},{"w":1.14e-2,"t":383},{"w":2.8e-2,"t":435},{"w":5.4e-2,"t":395},{"w":0.114,"t":423},{"w":0.28,"t":371},{"w":0.71,"t":403},
{"w":7.9e-3,"t":514},{"w":2.5e-2,"t":479},{"w":5.3e-2,"t":544},{"w":0.106,"t":494},{"w":0.246,"t":529},{"w":0.62,"t":464},{"w":1.6e-3,"t":504},
{"w":4.6e-3,"t":640},{"w":1.6e-2,"t":596},{"w":4.0e-2,"t":677},{"w":8.0e-2,"t":614},{"w":0.16,"t":658},{"w":0.4,"t":577},{"w":0.97,"t":627},
{"w":1.06e-2,"t":811},{"w":3.3e-2,"t":755},{"w":7.6e-2,"t":859},{"w":0.152,"t":779},{"w":0.33,"t":835},{"w":0.84,"t":731},{"w":3.8e-3,"t":795},
{"w":1.0e-2,"t":1028},{"w":3.4e-2,"t":958},{"w":8.5e-2,"t":1089},{"w":0.16,"t":988},{"w":0.34,"t":1058},{"w":0.85,"t":927},{"w":2.1,"t":1008},
{"w":2.3e-2,"t":1257},{"w":7.2e-2,"t":1170},{"w":0.155,"t":1331},{"w":0.31,"t":1207},{"w":0.72,"t":1294},{"w":1.8,"t":1133},{"w":4.6e-3,"t":1232},
{"w":1.4e-2,"t":1599},{"w":4.8e-2,"t":1490},{"w":0.12,"t":1693},{"w":0.24,"t":1537},{"w":0.48,"t":1646},{"w":1.2,"t":1443},{"w":2.9,"t":1568},
{"w":3.3e-2,"t":2056},{"w":0.1,"t":1915},{"w":0.23,"t":2177},{"w":0.465,"t":1976},{"w":1.02,"t":2117},{"w":2.6,"t":1855},{"w":1.2e-2,"t":2016},
{"w":3.0e-2,"t":2513},{"w":0.1,"t":2341},{"w":0.25,"t":2661},{"w":0.47,"t":2415},{"w":1.0,"t":2587},{"w":2.5,"t":2267},{"w":6.2,"t":2464},
{"w":7.1e-2,"t":3199},{"w":0.22,"t":2979},{"w":0.47,"t":3387},{"w":0.95,"t":3073},{"w":2.2,"t":3293},{"w":5.5,"t":2885},{"w":1.4e-2,"t":3136},
{"w":4.3e-2,"t":4113},{"w":0.15,"t":3830},{"w":0.37,"t":4355},{"w":0.75,"t":3951},{"w":1.5,"t":4234},{"w":3.7,"t":3709},{"w":9.1,"t":4032},
{"w":9.7e-2,"t":5141},{"w":0.31,"t":4788},{"w":0.7,"t":5443},{"w":1.39,"t":4939},{"w":3.1,"t":5292},{"w":7.6,"t":4637},{"w":3.5e-2,"t":5040},
{"w":9.1e-2,"t":6397},{"w":0.31,"t":5958},{"w":0.76,"t":6774},{"w":1.46,"t":6147},{"w":3.1,"t":6586},{"w":7.6,"t":5770},{"w":19,"t":6272},
{"w":0.22,"t":8111},{"w":0.67,"t":7554},{"w":1.44,"t":8588},{"w":2.9,"t":7793},{"w":6.7,"t":8350},{"w":16.8,"t":7316},{"w":4.3e-2,"t":7952}],
"d2":[{"w":0.091,"t":118,"s":"obs"},{"w":0.11,"t":205,"s":"obs"},{"w":0.11,"t":680,"s":"obs"},{"w":0.14,"t":1100,"s":"obs"},{"w":0.13,"t":1900,"s":"obs"},{"w":0.26,"t":2200,"s":"obs"},{"w":1.1,"t":360,"s":"obs"},{"w":1.4,"t":180,"s":"obs"},{"w":0.93,"t":90,"s":"obs"},{"w":2.1,"t":90,"s":"obs"},{"w":3.0,"t":90,"s":"obs"},{"w":4,"t":26,"s":"obs"},{"w":1.4,"t":8.5,"s":"obs"},{"w":8.5,"t":19.5,"s":"obs"},{"w":9,"t":9,"s":"obs"},{"w":21,"t":30,"s":"obs"},{"w":6,"t":155,"s":"obs"},{"w":14,"t":235,"s":"obs"},{"w":27,"t":310,"s":"obs"},{"w":40,"t":155,"s":"obs"},{"w":11,"t":90,"s":"obs"},{"w":16,"t":60,"s":"obs"},{"w":9.1,"t":1.25,"s":"obs"},{"w":0.19,"t":830,"s":"obs"},{"w":0.11,"t":135,"s":"obs"},{"w":0.19,"t":250,"s":"obs"},{"w":1.4,"t":135,"s":"obs"},{"w":4.1,"t":80,"s":"obs"},{"w":4.5,"t":24,"s":"obs"},{"w":21,"t":12,"s":"obs"},
{"w":2.5,"t":420,"s":"obs"},{"w":6.5,"t":480,"s":"obs"},{"w":12,"t":540,"s":"obs"},{"w":1.8,"t":600,"s":"obs"},{"w":30,"t":650,"s":"obs"},{"w":8,"t":380,"s":"obs"},{"w":18,"t":450,"s":"obs"},{"w":3.5,"t":560,"s":"obs"},
{"w":8.3,"t":705,"s":"obs"},{"w":2.4,"t":740,"s":"obs"},{"w":12.7,"t":808,"s":"obs"},{"w":4.2,"t":841,"s":"obs"},{"w":29,"t":892,"s":"obs"},{"w":9.7,"t":949,"s":"obs"},{"w":6.0,"t":977,"s":"obs"},{"w":16,"t":1040,"s":"obs"},{"w":3.6,"t":1078,"s":"obs"},{"w":11.2,"t":1139,"s":"obs"},{"w":19.6,"t":1185,"s":"obs"},{"w":7.0,"t":1220,"s":"obs"},{"w":1.7,"t":1288,"s":"obs"},{"w":10.5,"t":1321,"s":"obs"},{"w":39,"t":1372,"s":"obs"},{"w":5.0,"t":1429,"s":"obs"},{"w":14.7,"t":1457,"s":"obs"},{"w":8.7,"t":1520,"s":"obs"},{"w":27,"t":1558,"s":"obs"},{"w":6.6,"t":1619,"s":"obs"},{"w":13.7,"t":1665,"s":"obs"},{"w":3.1,"t":1700,"s":"obs"},{"w":17.5,"t":1768,"s":"obs"},{"w":7.6,"t":1801,"s":"obs"},{"w":56,"t":1852,"s":"obs"},{"w":9.8,"t":1909,"s":"obs"},{"w":4.3,"t":1937,"s":"obs"},{"w":12,"t":2000,"s":"obs"},{"w":22,"t":2038,"s":"obs"},{"w":9.1,"t":2099,"s":"obs"},
{"w":5.5,"t":2145,"s":"obs"},{"w":15,"t":2180,"s":"obs"},{"w":9.4,"t":2248,"s":"obs"},{"w":2.8,"t":2281,"s":"obs"},{"w":24,"t":2332,"s":"obs"},{"w":11.5,"t":2389,"s":"obs"},{"w":6.2,"t":2417,"s":"obs"},{"w":19,"t":2480,"s":"obs"},{"w":1.4,"t":2518,"s":"obs"},{"w":11,"t":2579,"s":"obs"},{"w":34,"t":2625,"s":"obs"},{"w":7.4,"t":2660,"s":"obs"},{"w":13,"t":2728,"s":"obs"},{"w":4.8,"t":2761,"s":"obs"},{"w":16.5,"t":2812,"s":"obs"},{"w":8.4,"t":2869,"s":"obs"},{"w":63,"t":2897,"s":"obs"},{"w":3.8,"t":2960,"s":"obs"},{"w":11.9,"t":2998,"s":"obs"},{"w":20,"t":3059,"s":"obs"},{"w":5.7,"t":3105,"s":"obs"},{"w":10.4,"t":3140,"s":"obs"},{"w":2.1,"t":3208,"s":"obs"},{"w":14.3,"t":3241,"s":"obs"},{"w":42,"t":3292,"s":"obs"},{"w":8.0,"t":3349,"s":"obs"},{"w":17,"t":3377,"s":"obs"},{"w":4.5,"t":3440,"s":"obs"},{"w":12.6,"t":3478,"s":"obs"},{"w":9.0,"t":3539,"s":"obs"},
{"w":2.5,"t":5455,"s":"out"},{"w":5.4,"t":5500,"s":"out"},{"w":10,"t":5578,"s":"out"},{"w":7.2,"t":5621,"s":"out"},{"w":14.4,"t":5682,"s":"out"},{"w":4.0,"t":5749,"s":"out"},{"w":8.5,"t":5787,"s":"out"},{"w":18,"t":5860,"s":"out"},{"w":6.2,"t":5908,"s":"out"},{"w":1.7,"t":5979,"s":"out"},{"w":11.4,"t":6035,"s":"out"},{"w":30,"t":6080,"s":"out"},{"w":4.8,"t":6158,"s":"out"},{"w":7.9,"t":6201,"s":"out"},{"w":13.2,"t":6262,"s":"out"},{"w":3.4,"t":6329,"s":"out"},{"w":21.6,"t":6367,"s":"out"},{"w":9.2,"t":6440,"s":"out"},{"w":6.7,"t":6488,"s":"out"},{"w":1.1,"t":6559,"s":"out"},{"w":4.6,"t":6615,"s":"out"},{"w":15.6,"t":6660,"s":"out"},{"w":10.7,"t":6738,"s":"out"},{"w":7.6,"t":6781,"s":"out"},{"w":42,"t":6842,"s":"out"},{"w":2.9,"t":6909,"s":"out"},{"w":12,"t":6947,"s":"out"},{"w":5.9,"t":7020,"s":"out"},{"w":19.2,"t":7068,"s":"out"},{"w":8.8,"t":7139,"s":"out"},
{"w":3.9,"t":7195,"s":"out"},{"w":10.8,"t":7240,"s":"out"},{"w":6.7,"t":7318,"s":"out"},{"w":2.0,"t":7361,"s":"out"},{"w":17,"t":7422,"s":"out"},{"w":8.2,"t":7489,"s":"out"},{"w":4.4,"t":7527,"s":"out"},{"w":13.5,"t":7600,"s":"out"},{"w":1.0,"t":7648,"s":"out"},{"w":7.9,"t":7719,"s":"out"},{"w":24,"t":7775,"s":"out"},{"w":5.3,"t":7820,"s":"out"},{"w":9.3,"t":7898,"s":"out"},{"w":3.4,"t":7941,"s":"out"},{"w":11.8,"t":8002,"s":"out"},{"w":6.0,"t":8069,"s":"out"},{"w":45,"t":8107,"s":"out"},{"w":2.7,"t":8180,"s":"out"},{"w":8.5,"t":8228,"s":"out"},{"w":14.5,"t":8299,"s":"out"},{"w":4.1,"t":8355,"s":"out"},{"w":7.4,"t":8400,"s":"out"},{"w":1.5,"t":8478,"s":"out"},{"w":10.2,"t":8521,"s":"out"},{"w":30,"t":8582,"s":"out"},{"w":5.7,"t":8649,"s":"out"},{"w":12.2,"t":8687,"s":"out"},{"w":3.2,"t":8760,"s":"out"},{"w":9.0,"t":8808,"s":"out"},{"w":6.4,"t":8879,"s":"out"},
{"w":0.021,"t":6200,"s":"out"},{"w":0.09,"t":7000,"s":"out"},{"w":0.12,"t":6500,"s":"out"},{"w":0.2,"t":8200,"s":"out"},{"w":0.3,"t":5900,"s":"out"},{"w":0.4,"t":8800,"s":"out"},{"w":0.15,"t":7600,"s":"out"}]
},
"columns":4,
"bounds":"flush",
"spacing":{"row":12,"column":27},
"concat":[
{"width":136,"height":120,"title":{"text":["a) TOA distribution,","linear time bins"]},
"layer":[
{"data":{"name":"a1"},"mark":{"type":"bar","clip":true},"encoding":{
"x":{"field":"lo","type":"quantitative","scale":{"domain":[-250,10000],"nice":false,"zero":false},"axis":{"values":[0,5000,10000],"labels":false,"title":null}},
"x2":{"field":"hi"},
"y":{"field":"c","type":"quantitative","scale":{"type":"log","domain":[1,4400],"nice":false},"axis":{"values":[1,10,100,1000],"labelExpr":"datum.value < 0.001 ? '10⁻⁵' : datum.value < 0.1 ? '10⁻²' : datum.value < 5 ? '10⁰' : datum.value < 50 ? '10¹' : datum.value < 500 ? '10²' : datum.value < 5000 ? '10³' : '10⁴'","title":["FRBs recorded","by FAST","on Sept 29 2021"],"titleAngle":0,"titleAlign":"center","titleBaseline":"middle","titleX":-82,"titleY":40,"titleLineHeight":12.5}},
"y2":{"datum":1},
"color":{"field":"s","type":"nominal","scale":{"domain":["obs","out","sim"],"range":["#7f0000","#8c5aac","#bcbddc"]},"legend":null}}},
{"data":{"name":"a1t"},"mark":{"type":"text","align":"left","baseline":"top","lineBreak":"\n","fontSize":9,"lineHeight":10.3},"encoding":{
"x":{"field":"lo","type":"quantitative"},
"y":{"field":"c","type":"quantitative"},
"text":{"field":"label"},
"color":{"field":"s","type":"nominal","scale":{"domain":["obs","out","sim"],"range":["#7f0000","#8c5aac","#bcbddc"]},"legend":null}}}
]},
{"width":136,"height":120,"title":{"text":["b) TOA distribution,","logarithmic time bins"]},
"data":{"name":"b1"},"mark":{"type":"bar","clip":true,"strokeWidth":1},"encoding":{
"x":{"field":"lo","type":"quantitative","scale":{"type":"log","domain":[1,10000],"nice":false},"axis":{"values":[1,100,10000],"labels":false,"title":null}},
"x2":{"field":"hi"},
"y":{"field":"c","type":"quantitative","scale":{"domain":[0,80],"nice":false},"axis":{"values":[0,20,40,60,80],"title":null}},
"y2":{"datum":0},
"color":{"field":"s","type":"nominal","scale":{"domain":["obs","out","sim"],"range":["#7f0000","#8c5aac","#bcbddc"]},"legend":null},
"stroke":{"field":"s","type":"nominal","scale":{"domain":["obs","out","sim"],"range":["#7f0000","#8c5aac","#bcbddc"]},"legend":null}}},
{"width":136,"height":120,"title":{"text":["c) waiting time","distribution"]},
"data":{"name":"c1"},
"layer":[
{"mark":{"type":"area","interpolate":"step-after","color":"#8c5aac","clip":true},"encoding":{
"x":{"field":"e","type":"quantitative","scale":{"type":"log","domain":[1e-5,270],"nice":false},"axis":{"values":[1e-5,0.01,10],"labels":false,"title":null}},
"y":{"field":"c","type":"quantitative","scale":{"domain":[0,60],"nice":false},"axis":{"values":[0,10,20,30,40,50,60],"title":null}}}},
{"mark":{"type":"line","interpolate":"step-after","color":"#7f0000","strokeWidth":1.8,"clip":true},"encoding":{
"x":{"field":"e","type":"quantitative","scale":{"type":"log","domain":[1e-5,270],"nice":false},"axis":{"values":[1e-5,0.01,10],"labels":false,"title":null}},
"y":{"field":"c","type":"quantitative","scale":{"domain":[0,60],"nice":false},"axis":{"values":[0,10,20,30,40,50,60],"title":null}}}}
]},
{"width":136,"height":120,"title":{"text":"d) TOA vs waiting time","offset":17},
"data":{"name":"d1"},"mark":{"type":"circle","size":7,"opacity":1,"clip":true},"encoding":{
"x":{"field":"w","type":"quantitative","scale":{"type":"log","domain":[1e-5,270],"nice":false},"axis":{"values":[1e-5,0.01,10],"labels":false,"title":null}},
"y":{"field":"t","type":"quantitative","scale":{"type":"log","domain":[0.69,14450],"nice":false},"axis":{"orient":"right","values":[1,10,100,1000,10000],"labelExpr":"datum.value < 0.001 ? '10⁻⁵' : datum.value < 0.1 ? '10⁻²' : datum.value < 5 ? '10⁰' : datum.value < 50 ? '10¹' : datum.value < 500 ? '10²' : datum.value < 5000 ? '10³' : '10⁴'","title":"TOA (s)","titleAngle":270,"titlePadding":18}},
"color":{"field":"s","type":"nominal","scale":{"domain":["obs","out","sim"],"range":["#7f0000","#8c5aac","#bcbddc"]},"legend":null}}},
{"width":136,"height":120,
"data":{"name":"a2"},"mark":{"type":"bar","clip":true},"encoding":{
"x":{"field":"lo","type":"quantitative","scale":{"domain":[-250,10000],"nice":false,"zero":false},"axis":{"values":[0,5000,10000],"format":"d","title":"TOA (s)"}},
"x2":{"field":"hi"},
"y":{"field":"c","type":"quantitative","scale":{"type":"log","domain":[1,4400],"nice":false},"axis":{"values":[1,10,100,1000],"labelExpr":"datum.value < 0.001 ? '10⁻⁵' : datum.value < 0.1 ? '10⁻²' : datum.value < 5 ? '10⁰' : datum.value < 50 ? '10¹' : datum.value < 500 ? '10²' : datum.value < 5000 ? '10³' : '10⁴'","title":["Simulated","FRB outburst:","loguniform TOAs"],"titleAngle":0,"titleAlign":"center","titleBaseline":"middle","titleX":-82,"titleY":40,"titleLineHeight":12.5}},
"y2":{"datum":1},
"color":{"field":"s","type":"nominal","scale":{"domain":["obs","out","sim"],"range":["#7f0000","#8c5aac","#bcbddc"]},"legend":null}}},
{"width":136,"height":120,
"data":{"name":"b2"},"mark":{"type":"bar","clip":true,"strokeWidth":1},"encoding":{
"x":{"field":"lo","type":"quantitative","scale":{"type":"log","domain":[1,10000],"nice":false},"axis":{"values":[1,100,10000],"labelExpr":"datum.value < 0.001 ? '10⁻⁵' : datum.value < 0.1 ? '10⁻²' : datum.value < 5 ? '10⁰' : datum.value < 50 ? '10¹' : datum.value < 500 ? '10²' : datum.value < 5000 ? '10³' : '10⁴'","title":"TOA (s)"}},
"x2":{"field":"hi"},
"y":{"field":"c","type":"quantitative","scale":{"domain":[0,80],"nice":false},"axis":{"values":[0,20,40,60,80],"title":null}},
"y2":{"datum":0},
"color":{"field":"s","type":"nominal","scale":{"domain":["obs","out","sim"],"range":["#7f0000","#8c5aac","#bcbddc"]},"legend":null},
"stroke":{"field":"s","type":"nominal","scale":{"domain":["obs","out","sim"],"range":["#7f0000","#8c5aac","#bcbddc"]},"legend":null}}},
{"width":136,"height":120,
"layer":[
{"layer":[
{"data":{"name":"c2p"},"mark":{"type":"area","interpolate":"step-after","color":"#8c5aac","clip":true},"encoding":{
"x":{"field":"e","type":"quantitative","scale":{"type":"log","domain":[1e-5,270],"nice":false},"axis":{"values":[1e-5,0.01,10],"labelExpr":"datum.value < 0.001 ? '10⁻⁵' : datum.value < 0.1 ? '10⁻²' : datum.value < 5 ? '10⁰' : datum.value < 50 ? '10¹' : datum.value < 500 ? '10²' : datum.value < 5000 ? '10³' : '10⁴'","title":"Waiting time (s)"}},
"y":{"field":"c","type":"quantitative","scale":{"domain":[0,60],"nice":false},"axis":{"values":[0,10,20,30,40,50,60],"title":null}}}},
{"data":{"name":"c2r"},"mark":{"type":"line","interpolate":"step-after","color":"#7f0000","strokeWidth":1.8,"clip":true},"encoding":{
"x":{"field":"e","type":"quantitative","scale":{"type":"log","domain":[1e-5,270],"nice":false},"axis":{"values":[1e-5,0.01,10],"labelExpr":"datum.value < 0.001 ? '10⁻⁵' : datum.value < 0.1 ? '10⁻²' : datum.value < 5 ? '10⁰' : datum.value < 50 ? '10¹' : datum.value < 500 ? '10²' : datum.value < 5000 ? '10³' : '10⁴'","title":"Waiting time (s)"}},
"y":{"field":"c","type":"quantitative","scale":{"domain":[0,60],"nice":false},"axis":{"values":[0,10,20,30,40,50,60],"title":null}}}}
]},
{"data":{"name":"c2l"},"mark":{"type":"line","interpolate":"step-after","color":"#bcbddc","strokeWidth":2,"clip":true},"encoding":{
"x":{"field":"e","type":"quantitative"},
"y":{"field":"c","type":"quantitative","scale":{"domain":[0,268],"nice":false},"axis":{"orient":"right","values":[0,50,100,150,200,250],"title":null,"labelColor":"#bcbddc","tickColor":"#bcbddc"}}}}
],
"resolve":{"scale":{"y":"independent"}}},
{"width":136,"height":120,
"layer":[
{"data":{"name":"d2l"},"mark":{"type":"circle","size":22,"opacity":1,"color":"#bcbddc","clip":true},"encoding":{
"x":{"field":"w","type":"quantitative","scale":{"type":"log","domain":[1e-5,270],"nice":false},"axis":{"values":[1e-5,0.01,10],"labelExpr":"datum.value < 0.001 ? '10⁻⁵' : datum.value < 0.1 ? '10⁻²' : datum.value < 5 ? '10⁰' : datum.value < 50 ? '10¹' : datum.value < 500 ? '10²' : datum.value < 5000 ? '10³' : '10⁴'","title":"Waiting time (s)"}},
"y":{"field":"t","type":"quantitative","scale":{"type":"log","domain":[0.69,14450],"nice":false},"axis":{"orient":"right","values":[1,10,100,1000,10000],"labelExpr":"datum.value < 0.001 ? '10⁻⁵' : datum.value < 0.1 ? '10⁻²' : datum.value < 5 ? '10⁰' : datum.value < 50 ? '10¹' : datum.value < 500 ? '10²' : datum.value < 5000 ? '10³' : '10⁴'","title":"TOA (s)","titleAngle":270,"titlePadding":18}}}},
{"data":{"name":"d2"},"mark":{"type":"circle","size":7,"opacity":1,"clip":true},"encoding":{
"x":{"field":"w","type":"quantitative"},
"y":{"field":"t","type":"quantitative"},
"color":{"field":"s","type":"nominal","scale":{"domain":["obs","out","sim"],"range":["#7f0000","#8c5aac","#bcbddc"]},"legend":null}}}
]}
]
}
